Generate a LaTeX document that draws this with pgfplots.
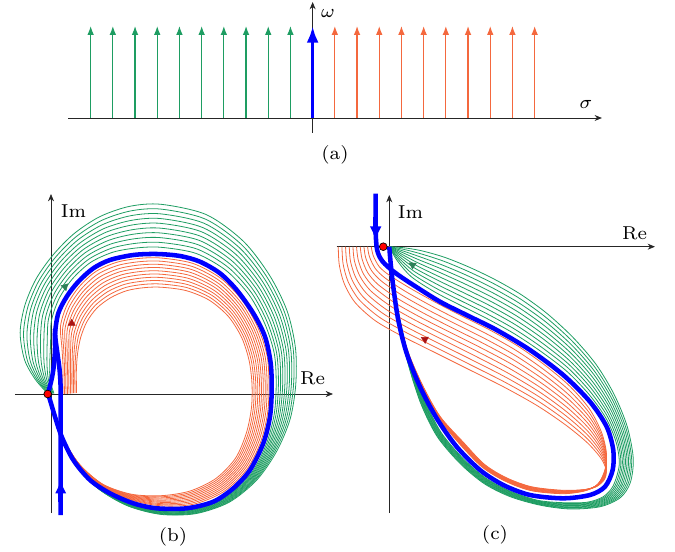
\documentclass[border=0pt]{standalone}
\usepackage{pgfplots}
\pgfplotsset{compat=1.18}
\usepackage{pgfplotstable}
\usepackage{graphicx}
\usetikzlibrary{arrows.meta}

\definecolor{famgreen}{RGB}{30,157,98}
\definecolor{famorange}{RGB}{244,104,62}
\definecolor{arrgreen}{RGB}{46,128,88}
\definecolor{arrred}{RGB}{170,20,20}

% vertical lines of the s-plane
\pgfplotstableread{
x y u v
-1 0 0 92
-2 0 0 92
-3 0 0 92
-4 0 0 92
-5 0 0 92
-6 0 0 92
-7 0 0 92
-8 0 0 92
-9 0 0 92
-10 0 0 92
}\leftlines
\pgfplotstableread{
x y u v
1 0 0 92
2 0 0 92
3 0 0 92
4 0 0 92
5 0 0 92
6 0 0 92
7 0 0 92
8 0 0 92
9 0 0 92
10 0 0 92
}\rightlines

% (b): images of the left lines, polar about the loop centre
\pgfplotstableread{
t r0 r1 r2 r3 r4 r5 r6 r7 r8 r9
185 107.5 108.2 108.8 109.5 110.1 110.8 111.4 112.1 112.7 113.4
178 111.0 112.6 114.2 115.9 117.5 119.1 120.7 122.4 124.0 125.6
170 113.0 115.8 118.7 121.5 124.3 127.2 130.0 132.8 135.7 138.5
160 117.5 121.1 124.7 128.3 131.9 135.5 139.1 142.7 146.3 149.9
150 126.5 129.9 133.3 136.7 140.1 143.6 147.0 150.4 153.8 157.2
140 133.0 136.4 139.7 143.1 146.4 149.8 153.1 156.5 159.8 163.2
130 137.5 140.9 144.3 147.7 151.1 154.6 158.0 161.4 164.8 168.2
120 140.5 144.2 147.9 151.6 155.3 158.9 162.6 166.3 170.0 173.7
110 140.3 144.5 148.7 152.9 157.1 161.4 165.6 169.8 174.0 178.2
100 138.2 142.9 147.6 152.3 156.9 161.6 166.3 171.0 175.7 180.4
90 136.7 141.5 146.3 151.0 155.8 160.6 165.4 170.1 174.9 179.7
75 135.2 139.7 144.1 148.6 153.0 157.5 161.9 166.4 170.8 175.3
60 130.8 134.6 138.4 142.1 145.9 149.7 153.5 157.2 161.0 164.8
45 125.2 128.4 131.5 134.7 137.8 141.0 144.1 147.3 150.4 153.6
30 120.0 122.9 125.7 128.6 131.4 134.3 137.1 140.0 142.8 145.7
15 117.3 119.7 122.2 124.6 127.0 129.5 131.9 134.3 136.8 139.2
0 115.2 117.4 119.6 121.7 123.9 126.1 128.3 130.4 132.6 134.8
-15 117.2 119.0 120.9 122.7 124.6 126.4 128.3 130.1 132.0 133.8
-30 121.4 122.8 124.2 125.5 126.9 128.3 129.7 131.0 132.4 133.8
-45 127.0 128.0 128.9 129.9 130.8 131.8 132.7 133.7 134.6 135.6
-60 130.0 130.7 131.4 132.2 132.9 133.6 134.3 135.1 135.8 136.5
-75 129.5 130.0 130.5 131.1 131.6 132.1 132.6 133.2 133.7 134.2
-90 126.4 126.8 127.3 127.7 128.2 128.6 129.1 129.5 130.0 130.4
-105 123.5 123.8 124.1 124.5 124.8 125.1 125.4 125.8 126.1 126.4
-120 121.1 121.2 121.4 121.5 121.6 121.8 121.9 122.0 122.2 122.3
-135 117.9 118.0 118.0 118.1 118.2 118.2 118.3 118.4 118.4 118.5
-150 113.6 113.6 113.6 113.6 113.6 113.7 113.7 113.7 113.7 113.7
-162 111.4 111.4 111.4 111.5 111.5 111.5 111.5 111.6 111.6 111.6
-172 112.3 112.3 112.3 112.2 112.2 112.2 112.2 112.1 112.1 112.1
-175 113.7 113.7 113.6 113.6 113.6 113.5 113.5 113.5 113.4 113.4
}\greenB

% (b): images of the right lines
\pgfplotstableread{
t r0 r1 r2 r3 r4 r5 r6 r7 r8 r9
186 98.5 97.0 95.5 94.0 92.5 90.9 89.4 87.9 86.4 84.9
178 98.3 96.8 95.3 93.8 92.3 90.7 89.2 87.7 86.2 84.7
170 99.5 98.0 96.5 95.0 93.5 91.9 90.4 88.9 87.4 85.9
160 105.4 103.6 101.7 99.9 98.0 96.2 94.3 92.5 90.6 88.8
150 116.0 113.4 110.8 108.3 105.7 103.1 100.5 98.0 95.4 92.8
140 122.7 119.8 116.9 114.1 111.2 108.3 105.4 102.5 99.7 96.8
130 127.1 124.0 120.9 117.9 114.8 111.7 108.6 105.5 102.5 99.4
120 130.0 126.7 123.3 120.0 116.6 113.3 109.9 106.6 103.2 99.9
110 129.5 126.2 122.8 119.5 116.1 112.8 109.4 106.1 102.8 99.4
100 127.5 124.2 120.9 117.6 114.3 111.0 107.7 104.4 101.1 97.8
90 126.0 122.8 119.5 116.3 113.0 109.8 106.5 103.3 100.0 96.8
75 124.7 121.6 118.5 115.4 112.3 109.1 106.0 102.9 99.8 96.7
60 121.3 118.6 115.8 113.1 110.4 107.6 104.9 102.2 99.4 96.7
45 116.3 114.0 111.7 109.3 107.0 104.7 102.4 100.1 97.7 95.4
30 112.1 110.0 107.9 105.8 103.7 101.5 99.4 97.3 95.2 93.1
15 109.8 107.7 105.7 103.6 101.5 99.5 97.4 95.3 93.3 91.2
0 108.0 106.1 104.2 102.3 100.4 98.6 96.7 94.8 92.9 91.0
-15 110.4 108.5 106.7 104.8 102.9 101.1 99.2 97.3 95.5 93.6
-30 115.2 113.3 111.5 109.6 107.8 105.9 104.1 102.2 100.4 98.5
-45 121.1 119.3 117.6 115.8 114.0 112.3 110.5 108.7 107.0 105.2
-60 124.6 122.9 121.2 119.5 117.8 116.1 114.4 112.7 111.0 109.3
-75 124.5 123.0 121.5 120.0 118.5 116.9 115.4 113.9 112.4 110.9
-90 121.8 120.7 119.6 118.4 117.3 116.2 115.1 113.9 112.8 111.7
-105 119.7 119.1 118.5 117.8 117.2 116.6 116.0 115.4 114.7 114.1
-120 118.1 117.9 117.6 117.4 117.1 116.9 116.6 116.4 116.1 115.9
-135 115.6 115.5 115.4 115.2 115.1 115.0 114.9 114.7 114.6 114.5
-150 112.0 112.0 112.1 112.1 112.1 112.2 112.2 112.2 112.3 112.3
-162 110.5 110.5 110.5 110.5 110.5 110.5 110.5 110.5 110.5 110.5
-172 111.8 111.8 111.8 111.8 111.8 111.8 111.8 111.8 111.8 111.8
-175 113.7 113.7 113.7 113.7 113.7 113.7 113.7 113.7 113.7 113.7
}\orangeB

% (b): image of the imaginary axis, loop and asymptote
\pgfplotstableread{
x y
-113.3 -10
-110.3 0.7
-107.7 14
-106 34
-106 50.7
-102.7 70.7
-94.3 87.3
-82.7 102.3
-67.7 115.7
-51 124
-27.7 129
-4.3 130
19 128
39 122.3
59 110.7
75.7 94
92.3 70.7
104 47.3
109.7 20.7
110.7 -6
109 -32.7
102.3 -59.3
89 -86
72.3 -104.3
52.3 -117.7
25.7 -124.3
-4.3 -124.3
-27.7 -119.3
-51 -109.3
-71 -96
-87.7 -76
-99.3 -52.7
-106 -32.7
-111 -16
-113.3 -10
}\blueB
\pgfplotstableread{
x y
-100.3 -131
-100.3 -20
-100.5 0
-101.5 15
-103.5 30
-105.5 45
-106 55
}\blueBasym

% (c): images of the left lines
\pgfplotstableread{
x0 y0 x1 y1 x2 y2 x3 y3 x4 y4 x5 y5 x6 y6 x7 y7 x8 y8 x9 y9
0 0 0 0 0 0 0 0 0 0 0 0 0 0 0 0 0 0 0 0
8 -14 8.7 -12.6 9.3 -11.1 10 -9.7 10.7 -8.2 11.3 -6.8 12 -5.3 12.7 -3.9 13.3 -2.4 14 -1
22 -30 23.1 -27.1 24.2 -24.2 25.3 -21.3 26.4 -18.4 27.6 -15.6 28.7 -12.7 29.8 -9.8 30.9 -6.9 32 -4
45 -45 46.1 -41.2 47.2 -37.3 48.3 -33.5 49.4 -29.7 50.6 -25.8 51.7 -22 52.8 -18.2 53.9 -14.3 55 -10.5
70 -58 71.1 -53.8 72.2 -49.7 73.3 -45.5 74.4 -41.3 75.6 -37.2 76.7 -33 77.8 -28.8 78.9 -24.7 80 -20.5
98 -72 98.9 -67.7 99.8 -63.3 100.7 -59 101.6 -54.7 102.4 -50.3 103.3 -46 104.2 -41.7 105.1 -37.3 106 -33
125 -87 125.8 -82.7 126.6 -78.3 127.3 -74 128.1 -69.7 128.9 -65.3 129.7 -61 130.4 -56.7 131.2 -52.3 132 -48
152 -105 152.7 -100.8 153.3 -96.6 154 -92.3 154.7 -88.1 155.3 -83.9 156 -79.7 156.7 -75.4 157.3 -71.2 158 -67
178 -125 178.7 -121.2 179.3 -117.4 180 -113.7 180.7 -109.9 181.3 -106.1 182 -102.3 182.7 -98.6 183.3 -94.8 184 -91
200 -148 200.8 -144.7 201.6 -141.3 202.3 -138 203.1 -134.7 203.9 -131.3 204.7 -128 205.4 -124.7 206.2 -121.3 207 -118
217 -172 217.9 -169.3 218.8 -166.7 219.7 -164 220.6 -161.3 221.4 -158.7 222.3 -156 223.2 -153.3 224.1 -150.7 225 -148
227 -196 228.2 -194.2 229.4 -192.4 230.7 -190.7 231.9 -188.9 233.1 -187.1 234.3 -185.3 235.6 -183.6 236.8 -181.8 238 -180
230 -218 231.6 -217.3 233.1 -216.7 234.7 -216 236.2 -215.3 237.8 -214.7 239.3 -214 240.9 -213.3 242.4 -212.7 244 -212
224 -239 225.9 -238.7 227.8 -238.3 229.7 -238 231.6 -237.7 233.4 -237.3 235.3 -237 237.2 -236.7 239.1 -236.3 241 -236
214 -250 215.9 -250.1 217.8 -250.2 219.7 -250.3 221.6 -250.4 223.4 -250.6 225.3 -250.7 227.2 -250.8 229.1 -250.9 231 -251
198 -255.5 199.4 -256 200.9 -256.5 202.3 -257 203.8 -257.5 205.2 -258 206.7 -258.5 208.1 -259 209.6 -259.5 211 -260
174 -256 174.8 -256.7 175.6 -257.4 176.3 -258.1 177.1 -258.8 177.9 -259.5 178.7 -260.2 179.4 -260.9 180.2 -261.6 181 -262.3
148 -253.5 148.3 -254.1 148.7 -254.6 149 -255.2 149.3 -255.7 149.7 -256.3 150 -256.8 150.3 -257.4 150.7 -257.9 151 -258.5
120 -244 120.1 -244.7 120.2 -245.3 120.3 -246 120.4 -246.7 120.6 -247.3 120.7 -248 120.8 -248.7 120.9 -249.3 121 -250
96 -231 95.9 -231.7 95.8 -232.3 95.7 -233 95.6 -233.7 95.4 -234.3 95.3 -235 95.2 -235.7 95.1 -236.3 95 -237
74 -212 73.7 -212.6 73.3 -213.1 73 -213.7 72.7 -214.2 72.3 -214.8 72 -215.3 71.7 -215.9 71.3 -216.4 71 -217
52 -186 51.6 -186.4 51.1 -186.9 50.7 -187.3 50.2 -187.8 49.8 -188.2 49.3 -188.7 48.9 -189.1 48.4 -189.6 48 -190
36 -155 35.6 -155.3 35.1 -155.7 34.7 -156 34.2 -156.3 33.8 -156.7 33.3 -157 32.9 -157.3 32.4 -157.7 32 -158
22 -120 21.8 -120.2 21.6 -120.4 21.4 -120.7 21.2 -120.9 21 -121.1 20.8 -121.3 20.6 -121.6 20.4 -121.8 20.2 -122
13.5 -86 13.3 -86.1 13.1 -86.2 12.9 -86.3 12.7 -86.4 12.5 -86.6 12.3 -86.7 12.1 -86.8 11.9 -86.9 11.7 -87
6.5 -52 6.4 -52 6.3 -52 6.2 -52 6.1 -52 6 -52 5.9 -52 5.8 -52 5.7 -52 5.6 -52
2.8 -25 2.7 -25 2.7 -25 2.6 -25 2.6 -25 2.5 -25 2.5 -25 2.4 -25 2.4 -25 2.3 -25
0 0 0 0 0 0 0 0 0 0 0 0 0 0 0 0 0 0 0 0
}\greenC

% (c): images of the right lines
\pgfplotstableread{
x0 y0 x1 y1 x2 y2 x3 y3 x4 y4 x5 y5 x6 y6 x7 y7 x8 y8 x9 y9
-18 0 -21.7 0 -25.3 0 -29 0 -32.7 0 -36.3 0 -40 0 -43.7 0 -47.3 0 -51 0
-16 -9 -19.8 -10 -23.6 -11 -27.3 -12 -31.1 -13 -34.9 -14 -38.7 -15 -42.4 -16 -46.2 -17 -50 -18
-10 -20 -13.9 -21.9 -17.8 -23.8 -21.7 -25.7 -25.6 -27.6 -29.4 -29.4 -33.3 -31.3 -37.2 -33.2 -41.1 -35.1 -45 -37
0 -28.5 -3.8 -31.6 -7.6 -34.6 -11.3 -37.7 -15.1 -40.7 -18.9 -43.8 -22.7 -46.8 -26.4 -49.9 -30.2 -52.9 -34 -56
20 -41 16.2 -44.7 12.4 -48.3 8.7 -52 4.9 -55.7 1.1 -59.3 -2.7 -63 -6.4 -66.7 -10.2 -70.3 -14 -74
45 -55 41.3 -58.8 37.7 -62.6 34 -66.3 30.3 -70.1 26.7 -73.9 23 -77.7 19.3 -81.4 15.7 -85.2 12 -89
72 -69 69 -73.1 66 -77.1 63 -81.2 60 -85.2 57 -89.3 54 -93.3 51 -97.4 48 -101.4 45 -105.5
100 -83 97.8 -87.4 95.6 -91.9 93.3 -96.3 91.1 -100.8 88.9 -105.2 86.7 -109.7 84.4 -114.1 82.2 -118.6 80 -123
128 -99 126.6 -103.6 125.1 -108.2 123.7 -112.8 122.2 -117.4 120.8 -122.1 119.3 -126.7 117.9 -131.3 116.4 -135.9 115 -140.5
155 -118 154.2 -122.6 153.4 -127.1 152.7 -131.7 151.9 -136.2 151.1 -140.8 150.3 -145.3 149.6 -149.9 148.8 -154.4 148 -159
180 -139 179.6 -143.3 179.1 -147.7 178.7 -152 178.2 -156.3 177.8 -160.7 177.3 -165 176.9 -169.3 176.4 -173.7 176 -178
200 -162 199.8 -165.8 199.6 -169.6 199.3 -173.3 199.1 -177.1 198.9 -180.9 198.7 -184.7 198.4 -188.4 198.2 -192.2 198 -196
212 -185 212 -188 212 -191 212 -194 212 -197 212 -200 212 -203 212 -206 212 -209 212 -212
217 -205 217 -207.1 217 -209.2 217 -211.3 217 -213.4 217 -215.6 217 -217.7 217 -219.8 217 -221.9 217 -224
216 -222 215.9 -223.2 215.8 -224.4 215.7 -225.7 215.6 -226.9 215.4 -228.1 215.3 -229.3 215.2 -230.6 215.1 -231.8 215 -233
209 -237 208.8 -237.3 208.6 -237.7 208.3 -238 208.1 -238.3 207.9 -238.7 207.7 -239 207.4 -239.3 207.2 -239.7 207 -240
196 -244 195.8 -243.9 195.6 -243.8 195.3 -243.7 195.1 -243.6 194.9 -243.4 194.7 -243.3 194.4 -243.2 194.2 -243.1 194 -243
174 -247 173.8 -246.6 173.6 -246.2 173.3 -245.8 173.1 -245.4 172.9 -245.1 172.7 -244.7 172.4 -244.3 172.2 -243.9 172 -243.5
142 -244 142 -243.6 142 -243.1 142 -242.7 142 -242.2 142 -241.8 142 -241.3 142 -240.9 142 -240.4 142 -240
116 -234.5 116.1 -234.1 116.2 -233.7 116.3 -233.3 116.4 -232.9 116.6 -232.6 116.7 -232.2 116.8 -231.8 116.9 -231.4 117 -231
93 -220.5 93.2 -220.2 93.4 -219.8 93.7 -219.5 93.9 -219.2 94.1 -218.8 94.3 -218.5 94.6 -218.2 94.8 -217.8 95 -217.5
71 -198 71.3 -197.7 71.7 -197.4 72 -197.2 72.3 -196.9 72.7 -196.6 73 -196.3 73.3 -196.1 73.7 -195.8 74 -195.5
49 -171 49.2 -170.9 49.4 -170.8 49.7 -170.7 49.9 -170.6 50.1 -170.5 50.3 -170.4 50.6 -170.3 50.8 -170.2 51 -170
32 -140 32.2 -140 32.4 -140 32.7 -140 32.9 -140 33.1 -140 33.3 -140 33.6 -140 33.8 -140 34 -140
18.5 -107 18.6 -107 18.7 -107 18.8 -107 18.9 -107 19 -107 19.1 -107 19.2 -107 19.3 -107 19.5 -107
9.5 -74 9.6 -74 9.6 -74 9.7 -74 9.7 -74 9.8 -74 9.8 -74 9.9 -74 9.9 -74 10 -74
4.5 -40 4.5 -40 4.6 -40 4.6 -40 4.6 -40 4.7 -40 4.7 -40 4.7 -40 4.8 -40 4.8 -40
1.8 -16 1.8 -16 1.8 -16 1.9 -16 1.9 -16 1.9 -16 1.9 -16 2 -16 2 -16 2 -16
0 0 0 0 0 0 0 0 0 0 0 0 0 0 0 0 0 0 0 0
}\orangeC

% (c): image of the imaginary axis
\pgfplotstableread{
x y
-13.6 53
-13.6 16.7
-13.1 5
-12.2 -3
-10 -9.5
-6.5 -15
-2 -19.5
2.4 -23.3
10 -29
24 -38.3
50.7 -55
80.7 -70
107.4 -83.3
140.7 -103.3
174 -128.3
200.7 -155
217.4 -180
224 -203.3
223.4 -223.3
215.7 -240
200.7 -248.3
174 -251.6
140.7 -248.3
114 -238.3
90.7 -223.3
67.4 -200
47.4 -171.6
30.7 -140
17.4 -106.6
9 -73.3
4 -40
1.4 -16.6
0 0
}\blueC

\newcommand{\lab}[1]{\scalebox{2}{\fontsize{7}{8.4}\selectfont #1}}
\tikzset{
  axisline/.style={black!85, line width=0.6pt, -{Stealth[length=5.5pt,width=4.5pt]}},
  lbl/.style={inner sep=0pt},
}
\pgfplotsset{
  panel/.style={hide axis, clip=false, x=0.75pt, y=0.75pt, anchor=north west,
    enlargelimits=false},
  fam/.style={line width=0.6pt, smooth, no markers},
  main/.style={blue, line width=3.4pt, smooth, no markers, line join=round},
}

\begin{document}
\begin{tikzpicture}
\useasboundingbox (0,0) rectangle (506.25pt,-414pt);

% ---------- (a) the s-plane ----------
\begin{axis}[panel, at={(51pt,-1.5pt)}, x=16.65pt,
  xmin=-11.02, xmax=13.03, ymin=-15, ymax=116]
  \draw[axisline] (axis cs:-11.02,0) -- (axis cs:13.03,0);
  \draw[axisline] (axis cs:0,-15) -- (axis cs:0,116);
  \addplot[famgreen, line width=0.9pt, quiver={u=\thisrow{u}, v=\thisrow{v}},
    -{Latex[length=6.75pt,width=5pt]}] table {\leftlines};
  \addplot[famorange, line width=0.9pt, quiver={u=\thisrow{u}, v=\thisrow{v}},
    -{Latex[length=6.75pt,width=5pt]}] table {\rightlines};
  \addplot[blue, line width=2.5pt, -{Latex[length=12.5pt,width=9pt]}]
    coordinates {(0,0) (0,92)};
\end{axis}

% ---------- (b) ----------
\begin{axis}[panel, at={(11.25pt,-145.5pt)},
  xmin=-146, xmax=172, ymin=-131, ymax=190]
  \draw[axisline] (axis cs:-146,-10) -- (axis cs:172,-10);
  \draw[axisline] (axis cs:-110,-129) -- (axis cs:-110,190);
  \pgfplotsinvokeforeach{0,...,9}{
    \addplot[fam, famgreen, data cs=polar] table[x=t, y=r#1] {\greenB};
  }
  \pgfplotsinvokeforeach{0,...,9}{
    \addplot[fam, famorange, data cs=polar] table[x=t, y=r#1] {\orangeB};
  }
  \addplot[main] table {\blueB};
  \addplot[main] table {\blueBasym};
  \addplot[blue, line width=3.4pt, -{Latex[length=10.5pt,width=8.5pt]}]
    coordinates {(-100.3,-118) (-100.3,-95.3)};
  \addplot[only marks, mark=triangle*, mark size=3pt, arrgreen,
    mark options={rotate=-45}] coordinates {(-96,97.3)};
  \addplot[only marks, mark=triangle*, mark size=3pt, arrred,
    mark options={rotate=120}] coordinates {(-89.3,60.7)};
  \addplot[only marks, mark=*, mark size=2.9pt,
    mark options={fill=red, draw=black, line width=0.5pt}] coordinates {(-113.3,-10)};
\end{axis}

% ---------- (c) ----------
\begin{axis}[panel, at={(252.5pt,-146.25pt)},
  xmin=-52.6, xmax=265.7, ymin=-266.3, ymax=51.7]
  \draw[axisline] (axis cs:-52.6,0) -- (axis cs:265.7,0);
  \draw[axisline] (axis cs:0,-266.3) -- (axis cs:0,51.7);
  \pgfplotsinvokeforeach{0,...,9}{
    \addplot[fam, famgreen] table[x=x#1, y=y#1] {\greenC};
  }
  \pgfplotsinvokeforeach{0,...,9}{
    \addplot[fam, famorange] table[x=x#1, y=y#1] {\orangeC};
  }
  \addplot[main] table {\blueC};
  \addplot[blue, line width=3.4pt, -{Latex[length=11pt,width=9pt]}]
    coordinates {(-13.6,30) (-13.6,5.7)};
  \addplot[only marks, mark=triangle*, mark size=3pt, arrgreen,
    mark options={rotate=57}] coordinates {(23.4,-18.3)};
  \addplot[only marks, mark=triangle*, mark size=3pt, arrred,
    mark options={rotate=63}] coordinates {(35.7,-92.6)};
  \addplot[only marks, mark=*, mark size=2.9pt,
    mark options={fill=red, draw=black, line width=0.5pt}] coordinates {(-6,0)};
\end{axis}

% labels
\node[lbl] at (246pt,-9.75pt) {\lab{$\omega$}};
\node[lbl] at (439.5pt,-78pt) {\lab{$\sigma$}};
\node[lbl] at (251.25pt,-116.25pt) {\lab{(a)}};
\node[lbl] at (129.75pt,-402.75pt) {\lab{(b)}};
\node[lbl] at (371.25pt,-401.25pt) {\lab{(c)}};
\node[lbl] at (55.1pt,-158.25pt) {\lab{Im}};
\node[lbl] at (234.4pt,-283.5pt) {\lab{Re}};
\node[lbl] at (307.9pt,-159pt) {\lab{Im}};
\node[lbl] at (475.9pt,-174.75pt) {\lab{Re}};
\end{tikzpicture}
\end{document}
